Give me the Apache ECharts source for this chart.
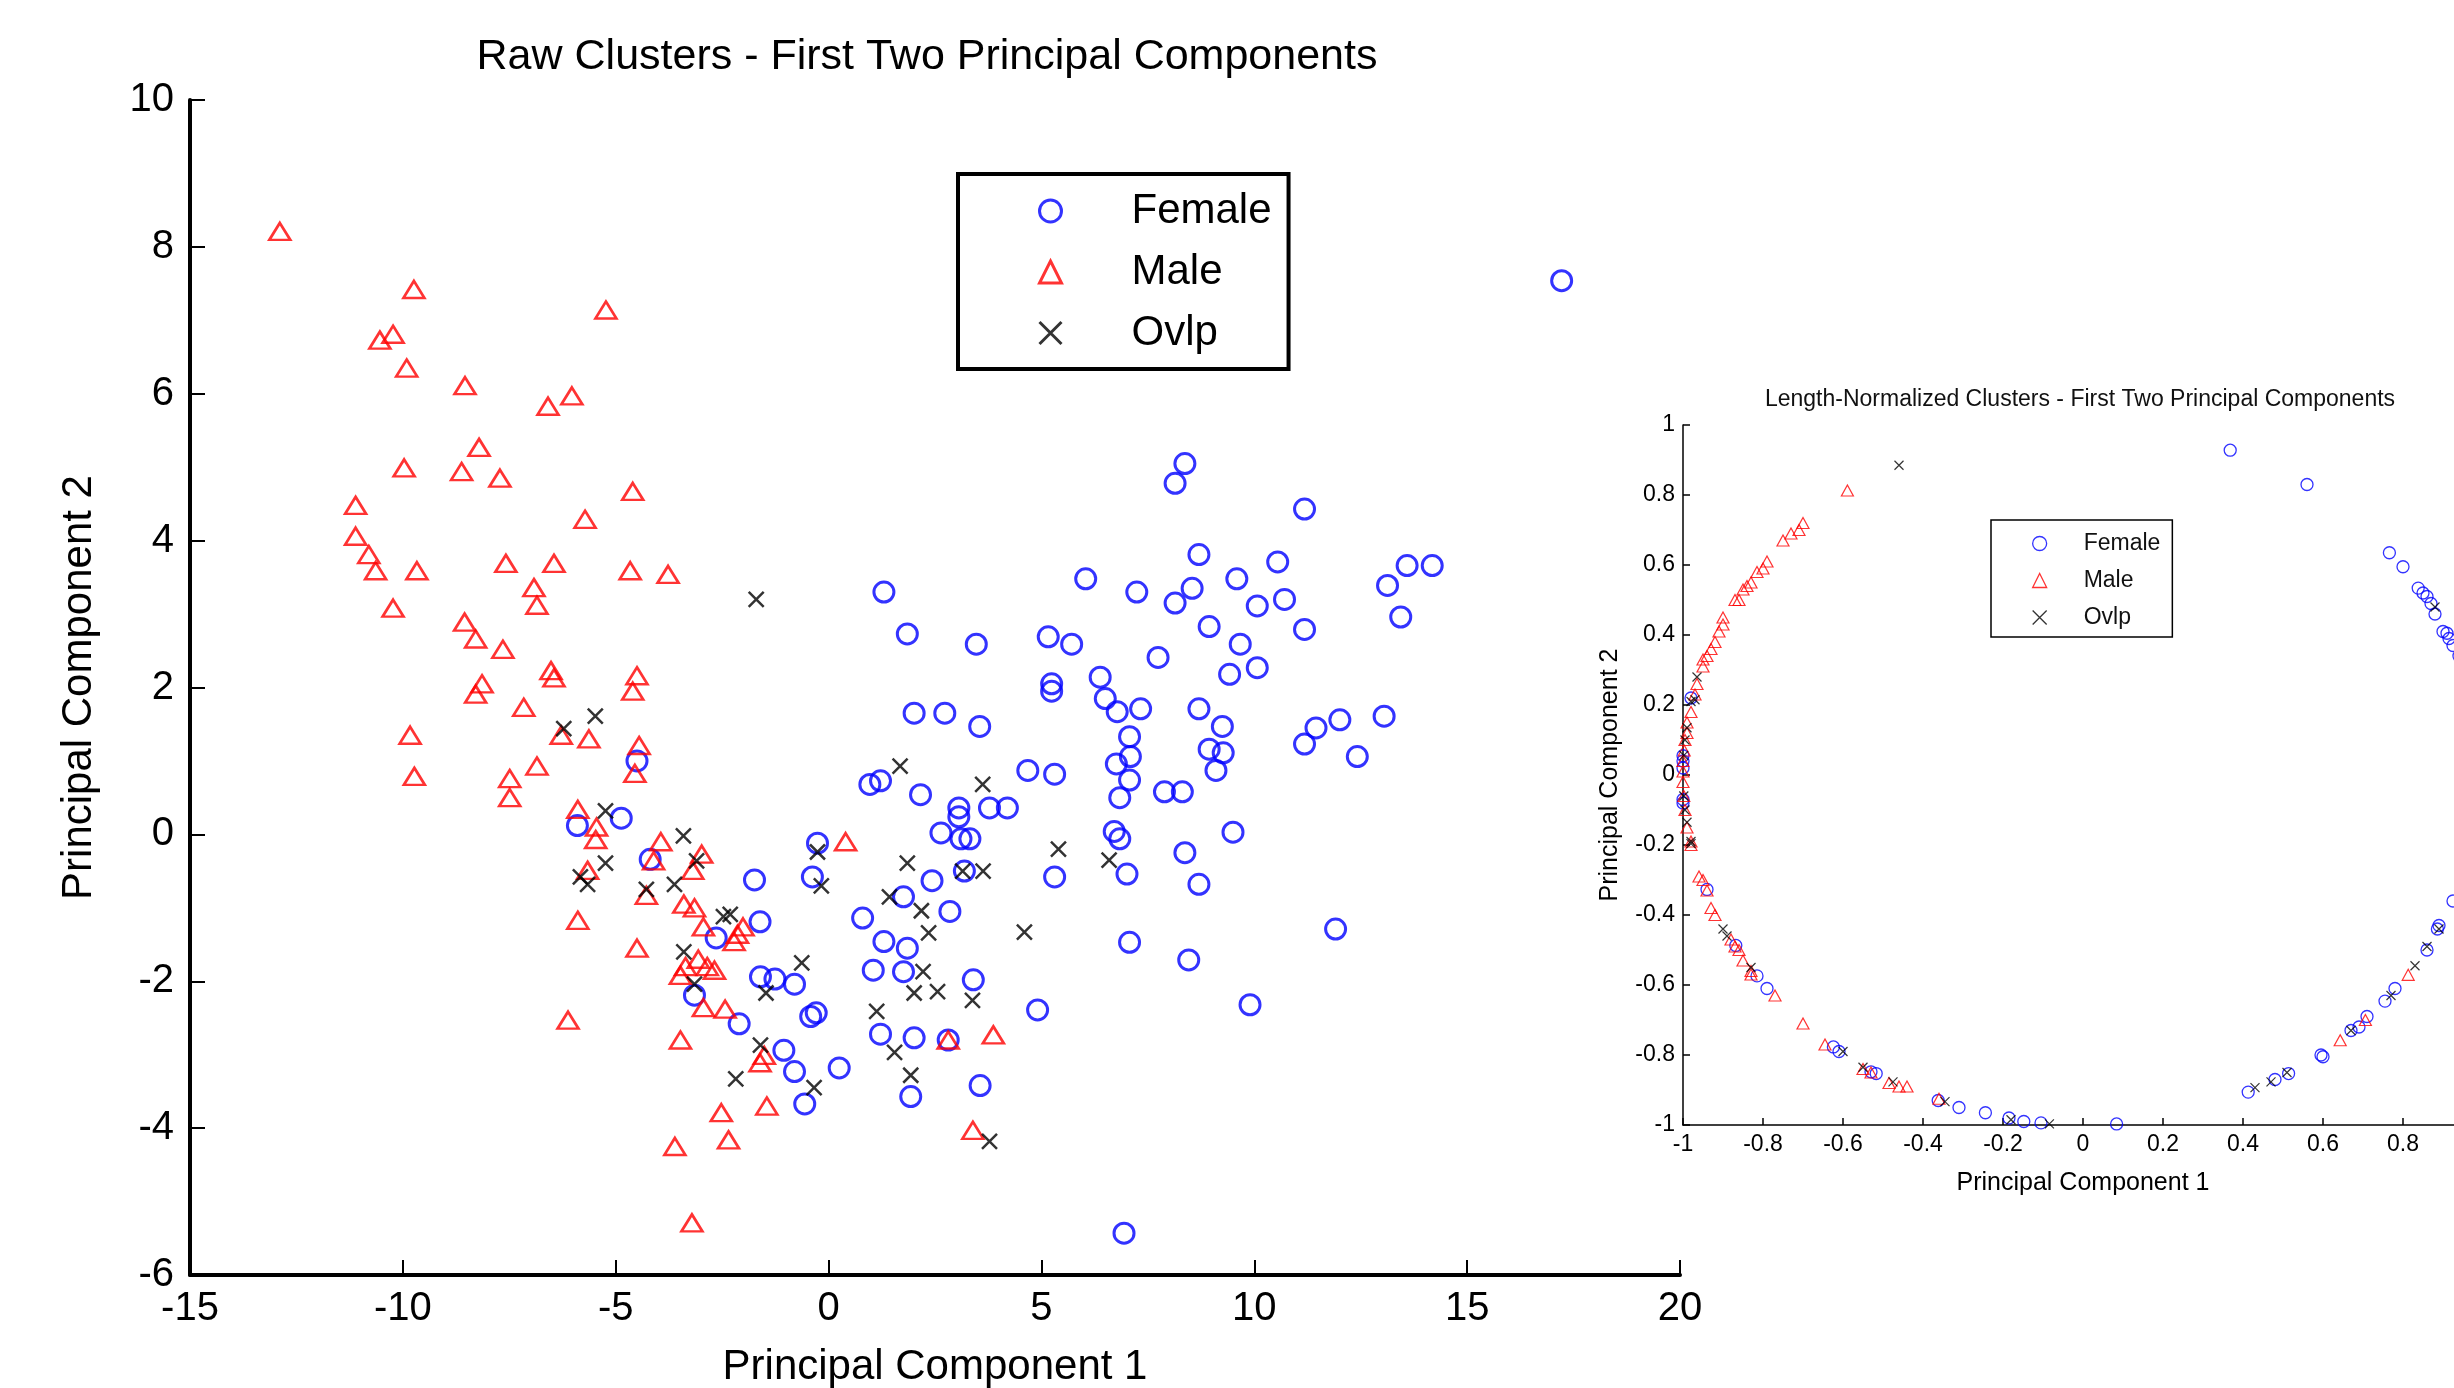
<!DOCTYPE html>
<html>
<head>
<meta charset="utf-8">
<title>Raw Clusters - First Two Principal Components</title>
<script src="https://cdn.jsdelivr.net/npm/echarts@6/dist/echarts.min.js"></script>
<style>
  html, body { margin: 0; padding: 0; background: #fff; }
  #main { width: 2454px; height: 1388px; }
</style>
</head>
<body>
<div id="main"></div>
<script>
// ==== raw PCA scores (left plot) ====
const rawFemale = [
  [-4.5, 1.0], [-5.9, 0.12], [-4.87, 0.22], [-4.19, -0.34], [-1.74, -0.62], [-1.61, -1.19],
  [-2.64, -1.41], [-3.15, -2.19], [-2.10, -2.58], [-1.60, -1.94], [-1.26, -1.97], [-0.80, -2.04],
  [-0.26, -0.12], [-0.38, -0.58], [0.97, 0.68], [1.22, 0.73], [2.16, 0.54], [2.43, -0.63],
  [1.76, -0.85], [0.80, -1.14], [1.30, -1.46], [1.85, -1.55], [1.05, -1.85], [1.76, -1.87],
  [-0.42, -2.48], [-0.29, -2.43], [1.22, -2.72], [2.01, -2.77], [2.81, -2.80], [-1.05, -2.94],
  [-0.80, -3.23], [0.25, -3.18], [-0.56, -3.67], [1.93, -3.57],
  [8.37, 5.05], [8.14, 4.78], [11.18, 4.43], [8.70, 3.81], [10.55, 3.71], [6.04, 3.48],
  [7.24, 3.30], [8.54, 3.35], [8.14, 3.15], [9.59, 3.48], [10.07, 3.11], [10.71, 3.20],
  [13.59, 3.66], [14.18, 3.66], [13.13, 3.39], [13.44, 2.96], [11.18, 2.79], [8.94, 2.83],
  [9.67, 2.59], [7.74, 2.41], [10.07, 2.27], [9.42, 2.18], [1.85, 2.73], [3.47, 2.59],
  [5.16, 2.69], [5.71, 2.59], [6.38, 2.14], [5.24, 2.05], [5.24, 1.95], [6.50, 1.85],
  [6.78, 1.67], [7.33, 1.71], [8.70, 1.71], [9.25, 1.47], [11.45, 1.45], [12.01, 1.56],
  [13.05, 1.61], [11.18, 1.23], [12.42, 1.06], [2.01, 1.65], [2.73, 1.65], [3.55, 1.47],
  [7.07, 1.33], [7.09, 1.06], [6.76, 0.96], [7.07, 0.74], [6.84, 0.50], [8.94, 1.16],
  [9.27, 1.11], [9.10, 0.87], [7.89, 0.58], [8.31, 0.58], [4.68, 0.87], [5.31, 0.82],
  [3.06, 0.36], [3.06, 0.24], [3.78, 0.36], [4.20, 0.36], [2.64, 0.02], [3.11, -0.06],
  [3.32, -0.06], [3.19, -0.50], [2.85, -1.05], [3.40, -1.98], [4.91, -2.39], [5.31, -0.58],
  [6.71, 0.04], [6.84, -0.06], [7.01, -0.54], [9.50, 0.03], [8.37, -0.25], [8.70, -0.68],
  [11.91, -1.29], [7.07, -1.47], [8.46, -1.71], [9.90, -2.32],
  [17.22, 7.54], [1.3, 3.3], [3.56, -3.42], [6.94, -5.43]
];
const rawMale = [
  [-12.89, 8.21], [-9.74, 7.42], [-5.23, 7.14], [-10.23, 6.81], [-10.54, 6.73], [-9.91, 6.35],
  [-8.54, 6.11], [-6.03, 5.97], [-6.59, 5.83], [-8.21, 5.27], [-9.97, 4.99], [-8.62, 4.94],
  [-7.72, 4.85], [-4.60, 4.67], [-11.11, 4.48], [-5.72, 4.29], [-11.11, 4.06], [-10.80, 3.81],
  [-10.64, 3.59], [-9.67, 3.59], [-7.58, 3.69], [-6.45, 3.69], [-4.66, 3.59], [-3.77, 3.54],
  [-6.92, 3.36], [-6.85, 3.12], [-10.23, 3.08], [-8.55, 2.89], [-8.29, 2.66], [-7.65, 2.52],
  [-6.52, 2.23], [-6.45, 2.13], [-4.50, 2.16], [-4.60, 1.95], [-8.14, 2.05], [-8.29, 1.91],
  [-7.16, 1.73], [-9.83, 1.35], [-6.28, 1.35], [-5.63, 1.30], [-4.45, 1.21],
  [-4.55, 0.83], [-9.73, 0.79], [-6.85, 0.93], [-7.49, 0.76], [-7.49, 0.50], [-5.89, 0.34],
  [-5.45, 0.10], [-5.47, -0.07], [-3.94, -0.10], [-4.11, -0.36], [-2.98, -0.27], [-3.19, -0.49],
  [-5.66, -0.49], [-4.28, -0.83], [-3.40, -0.95], [-3.15, -1.0], [-5.89, -1.17], [-4.50, -1.55],
  [-2.94, -1.26], [-2.01, -1.26], [-2.22, -1.46], [-2.14, -1.36], [-3.36, -1.80], [-3.06, -1.70],
  [-2.85, -1.80], [-2.68, -1.85], [-3.48, -1.92], [-2.94, -2.36], [-2.43, -2.38], [0.40, -0.10],
  [2.81, -2.80], [-1.51, -3.01], [-1.61, -3.11], [-2.52, -3.79], [-1.45, -3.70], [-3.61, -4.25],
  [-2.35, -4.16], [-3.21, -5.29], [-6.12, -2.53], [-3.48, -2.80], [3.87, -2.73], [3.39, -4.03]
];
const rawOvlp = [
  [-1.70, 3.20], [-5.48, 1.61], [-6.22, 1.44], [-5.24, 0.32], [-3.41, -0.02], [-3.10, -0.36],
  [-5.24, -0.39], [-5.83, -0.58], [-5.66, -0.68], [-3.62, -0.68], [-4.28, -0.75], [-2.31, -1.09],
  [-2.47, -1.12], [-3.40, -1.60], [-3.15, -2.04], [-1.47, -2.16], [-0.63, -1.75], [-0.26, -0.24],
  [-0.17, -0.70], [1.68, 0.93], [1.85, -0.39], [1.43, -0.85], [2.18, -1.04], [2.35, -1.34],
  [2.22, -1.87], [2.01, -2.16], [2.56, -2.14], [1.13, -2.41], [1.55, -2.97], [-1.60, -2.87],
  [-2.18, -3.33], [-0.34, -3.45], [1.93, -3.28], [3.62, 0.68], [5.40, -0.20], [6.59, -0.35],
  [3.15, -0.50], [3.63, -0.50], [4.60, -1.33], [3.38, -2.26], [3.78, -4.18]
];

// ==== length-normalized scores (right plot) ====
const normFemale = [
  [0.368, 0.928], [0.56, 0.83], [0.766, 0.635], [0.80, 0.595], [0.838, 0.534], [0.85, 0.52],
  [0.86, 0.51], [0.87, 0.49], [0.88, 0.46], [0.90, 0.41], [0.91, 0.405], [0.915, 0.39],
  [0.925, 0.37], [0.94, 0.34], [0.925, -0.36], [0.89, -0.43], [0.886, -0.44], [0.86, -0.50],
  [0.78, -0.61], [0.755, -0.646], [0.71, -0.69], [0.69, -0.72], [0.67, -0.73], [0.595, -0.80],
  [0.60, -0.805], [0.514, -0.853], [0.48, -0.87], [0.413, -0.906], [0.084, -0.997], [-0.105, -0.994],
  [-0.148, -0.99], [-0.185, -0.98], [-0.244, -0.965], [-0.31, -0.95], [-0.362, -0.93], [-0.517, -0.853],
  [-0.53, -0.848], [-0.61, -0.79], [-0.624, -0.777], [-0.79, -0.61], [-0.815, -0.574], [-0.868, -0.487],
  [-0.94, -0.327], [-1.0, -0.08], [-1.0, -0.07], [-1.0, 0.02], [-1.0, 0.04], [-1.0, 0.055], [-0.98, 0.22]
];
const normMale = [
  [-0.589, 0.813], [-0.70, 0.72], [-0.71, 0.70], [-0.73, 0.69], [-0.75, 0.67], [-0.79, 0.61],
  [-0.80, 0.59], [-0.815, 0.58], [-0.83, 0.55], [-0.84, 0.54], [-0.85, 0.53], [-0.86, 0.50],
  [-0.87, 0.50], [-0.90, 0.45], [-0.90, 0.43], [-0.91, 0.41], [-0.92, 0.38], [-0.93, 0.36],
  [-0.94, 0.34], [-0.95, 0.33], [-0.95, 0.31], [-0.965, 0.26], [-0.97, 0.23], [-0.98, 0.18],
  [-0.99, 0.15], [-0.99, 0.12], [-0.995, 0.10], [-0.997, 0.07], [-1.0, 0.04], [-1.0, 0.01],
  [-1.0, -0.02], [-0.998, -0.06], [-0.995, -0.10], [-0.99, -0.15], [-0.98, -0.19], [-0.98, -0.20],
  [-0.96, -0.29], [-0.95, -0.30], [-0.94, -0.33], [-0.93, -0.38], [-0.92, -0.40], [-0.88, -0.47],
  [-0.87, -0.49], [-0.86, -0.50], [-0.85, -0.53], [-0.83, -0.56], [-0.83, -0.57], [-0.77, -0.63],
  [-0.70, -0.71], [-0.645, -0.77], [-0.55, -0.84], [-0.53, -0.85], [-0.485, -0.88], [-0.46, -0.89],
  [-0.44, -0.89], [-0.36, -0.925], [0.643, -0.758], [0.706, -0.70], [0.813, -0.571]
];
const normOvlp = [
  [-0.46, 0.885], [0.88, 0.48], [-0.965, 0.28], [-0.97, 0.215], [-0.98, 0.21], [-0.99, 0.135],
  [-0.995, 0.10], [-0.998, 0.056], [-0.998, -0.06], [-0.995, -0.10], [-0.99, -0.135], [-0.98, -0.19],
  [-0.98, -0.196], [-0.90, -0.44], [-0.89, -0.46], [-0.83, -0.55], [-0.60, -0.79], [-0.55, -0.835],
  [-0.475, -0.877], [-0.345, -0.933], [-0.18, -0.985], [-0.084, -0.997], [0.43, -0.893], [0.47, -0.877],
  [0.51, -0.85], [0.67, -0.73], [0.77, -0.63], [0.83, -0.545], [0.86, -0.49], [0.89, -0.44]
];

const groupNames = ["Female", "Male", "Ovlp"];
const groupColors = ["#0000ff", "#ff0000", "#000000"];
const crossPath = "path://M0,0L10,10M0,10L10,0";

var chartDom = document.getElementById("main");
var chart = echarts.init(chartDom);

const FONT = "Liberation Sans, Arial, sans-serif";

function axisBase(fontSize, lineWidth, tickLen, margin) {
	return {
		splitLine: { show: false },
		axisLine: { show: true, onZero: false, lineStyle: { color: "#000", width: lineWidth } },
		axisTick: { show: true, inside: true, length: tickLen, lineStyle: { color: "#000", width: lineWidth > 2 ? 2 : lineWidth } },
		axisLabel: { color: "#000", fontSize: fontSize, fontFamily: FONT, margin: margin },
		nameTextStyle: { color: "#000", fontSize: fontSize + 2, fontFamily: FONT },
		nameLocation: "middle",
	};
}

function makeSeries(name, data, axisIdx, big) {
	const i = groupNames.indexOf(name);
	let symbol = "circle", size = big ? 20 : 12, bw = big ? 3 : 1.3;
	if (name === "Male") { symbol = "triangle"; size = big ? [21, 17] : [12, 11]; bw = big ? 2.6 : 1.2; }
	if (name === "Ovlp") { symbol = crossPath; size = big ? 15 : 9; bw = big ? 2.5 : 1.2; }
	return {
		name: name,
		type: "scatter",
		xAxisIndex: axisIdx,
		yAxisIndex: axisIdx,
		data: data,
		symbol: symbol,
		symbolSize: size,
		itemStyle: { color: "rgba(0,0,0,0)", borderColor: groupColors[i], borderWidth: bw },
		emphasis: { disabled: true },
		clip: true,
	};
}

var option = {
	backgroundColor: "#fff",
	animation: false,
	title: [
		{
			text: "Raw Clusters - First Two Principal Components",
			left: 927, top: 36, textAlign: "center", padding: 0,
			textStyle: { color: "#000", fontSize: 43, fontWeight: "normal", fontFamily: FONT },
		},
		{
			text: "Length-Normalized Clusters - First Two Principal Components",
			left: 2080, top: 388, textAlign: "center", padding: 0,
			textStyle: { color: "#111", fontSize: 23, fontWeight: "normal", fontFamily: FONT },
		},
	],
	legend: [
		{
			data: groupNames,
			orient: "vertical",
			left: 958, top: 174,
			padding: [16, 17, 15, 80],
			itemWidth: 22, itemHeight: 22, itemGap: 19,
			selectedMode: false,
			borderColor: "#000", borderWidth: 4,
			backgroundColor: "#fff",
			itemStyle: { borderWidth: 3 },
			textStyle: { color: "#000", fontSize: 42, fontFamily: FONT, padding: [0, 0, 0, 65] },
		},
		{
			data: groupNames,
			orient: "vertical",
			left: 1991, top: 520,
			padding: [12, 12, 8, 41],
			itemWidth: 14, itemHeight: 14, itemGap: 14,
			selectedMode: false,
			borderColor: "#000", borderWidth: 1.5,
			backgroundColor: "#fff",
			itemStyle: { borderWidth: 1.3 },
			textStyle: { color: "#111", fontSize: 23, fontFamily: FONT, padding: [0, 0, 0, 32] },
		},
	],
	grid: [
		{ left: 190, top: 100, width: 1490, height: 1175, containLabel: false, outerBoundsMode: "none" },
		{ left: 1683, top: 425, width: 800, height: 700, containLabel: false, outerBoundsMode: "none" },
	],
	xAxis: [
		Object.assign(axisBase(40, 4, 15, 14), {
			gridIndex: 0, type: "value", min: -15, max: 20, interval: 5,
			name: "Principal Component 1", nameGap: 71,
		}),
		Object.assign(axisBase(23, 1.5, 7, 8), {
			gridIndex: 1, type: "value", min: -1, max: 1, interval: 0.2,
			name: "Principal Component 1", nameGap: 46,
		}),
	],
	yAxis: [
		Object.assign(axisBase(40, 4, 15, 16), {
			gridIndex: 0, type: "value", min: -6, max: 10, interval: 2,
			name: "Principal Component 2", nameGap: 90,
		}),
		Object.assign(axisBase(23, 1.5, 7, 8), {
			gridIndex: 1, type: "value", min: -1, max: 1, interval: 0.2,
			name: "Principal Component 2", nameGap: 60,
		}),
	],
	series: [
		makeSeries("Female", rawFemale, 0, true),
		makeSeries("Male", rawMale, 0, true),
		makeSeries("Ovlp", rawOvlp, 0, true),
		makeSeries("Female", normFemale, 1, false),
		makeSeries("Male", normMale, 1, false),
		makeSeries("Ovlp", normOvlp, 1, false),
	],
};

option && chart.setOption(option);
</script>
</body>
</html>
